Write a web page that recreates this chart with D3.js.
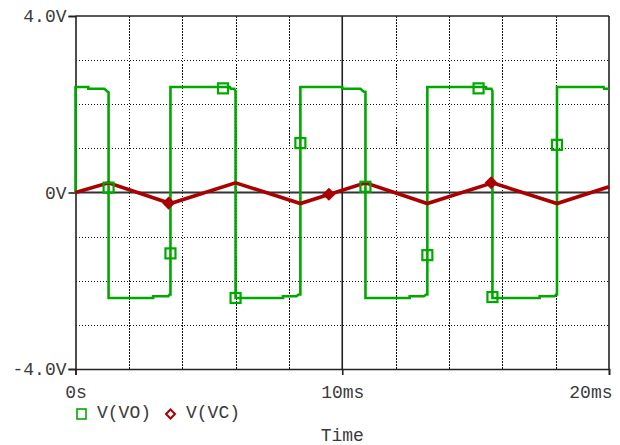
<!DOCTYPE html>
<html>
<head>
<meta charset="utf-8">
<script src="https://cdn.jsdelivr.net/npm/d3@7/dist/d3.min.js"></script>
<style>
  html, body { margin: 0; padding: 0; background: #fff; }
  svg { display: block; }
  text { font-family: "Courier New", "Liberation Mono", monospace; font-size: 18px; fill: #3a3a3a; }
</style>
</head>
<body>
<svg id="chart" width="620" height="445"></svg>
<script>
// Time in ms, voltage in V
const xTicks = [0, 10, 20];
const xTickLabels = ["0s", "10ms", "20ms"];
const yTicks = [-4, 0, 4];
const yTickLabels = ["-4.0V", "0V", "4.0V"];
const xGrid = [2, 4, 6, 8, 12, 14, 16, 18];
const yGrid = [-3, -2, -1, 1, 2, 3];
const seriesNames = ["V(VO)", "V(VC)"];
const axisTitle = "Time";

// Comparator output V(VO)
const voTrace = [
  [0, 0], [0, 2.39], [0.48, 2.39], [0.48, 2.35], [1.08, 2.35], [1.22, 2.28], [1.24, 2.27],
  [1.24, -2.39], [2.91, -2.39], [2.91, -2.35], [3.48, -2.35], [3.53, -2.31], [3.56, -2.31],
  [3.56, 2.39], [5.79, 2.39], [5.82, 2.35], [5.95, 2.35], [6.0, 2.3],
  [6.0, -2.39], [7.78, -2.39], [7.78, -2.35], [8.28, -2.35], [8.38, -2.31], [8.43, -2.31],
  [8.43, 2.39], [10.0, 2.39], [10.0, 2.35], [10.68, 2.35], [10.8, 2.29], [10.87, 2.28],
  [10.87, -2.39], [12.53, -2.39], [12.53, -2.35], [13.06, -2.35], [13.15, -2.31], [13.19, -2.31],
  [13.19, 2.39], [15.39, 2.39], [15.39, 2.35], [15.59, 2.35], [15.63, 2.3],
  [15.63, -2.39], [17.4, -2.39], [17.4, -2.35], [17.96, -2.35], [18.02, -2.31], [18.05, -2.31],
  [18.05, 2.39], [19.8, 2.39], [19.82, 2.35], [20, 2.35]
];

// Capacitor voltage V(VC)
const vcTrace = [
  [0, 0], [1.24, 0.22], [3.56, -0.25], [6.0, 0.22], [8.43, -0.25],
  [10.87, 0.22], [13.19, -0.25], [15.63, 0.22], [18.05, -0.25], [20, 0.13]
];

// Trace symbols
const voMarkers = [
  [1.24, 0.11], [3.56, -1.38], [5.53, 2.36], [6.0, -2.39], [8.43, 1.12],
  [10.87, 0.13], [13.19, -1.42], [15.11, 2.36], [15.63, -2.37], [18.05, 1.08]
];
const vcMarkers = [[3.49, -0.24], [9.5, -0.04], [15.58, 0.22]];

const colors = { vo: "#00a800", vc: "#aa0000" };

const svg = d3.select("#chart");
const x = d3.scaleLinear().domain([0, 20]).range([75.5, 609]);
const y = d3.scaleLinear().domain([-4, 4]).range([369, 16]);

// Dotted grid
const grid = svg.append("g").attr("stroke", "#111").attr("stroke-width", 1)
  .attr("stroke-dasharray", "1.5,1.5").attr("shape-rendering", "crispEdges");
grid.selectAll(".gx").data(xGrid).join("line")
  .attr("x1", d => Math.round(x(d)) + 0.5).attr("x2", d => Math.round(x(d)) + 0.5)
  .attr("y1", y(4)).attr("y2", y(-4));
grid.selectAll(".gy").data(yGrid).join("line")
  .attr("y1", d => Math.round(y(d)) + 0.5).attr("y2", d => Math.round(y(d)) + 0.5)
  .attr("x1", x(0)).attr("x2", x(20));

// Solid centre lines
svg.append("line").attr("x1", x(0)).attr("x2", x(20)).attr("y1", y(0)).attr("y2", y(0))
  .attr("stroke", "#333").attr("stroke-width", 2);
svg.append("line").attr("x1", x(10)).attr("x2", x(10)).attr("y1", y(4)).attr("y2", y(-4))
  .attr("stroke", "#222").attr("stroke-width", 1.6);

// Frame
svg.append("line").attr("x1", x(0)).attr("x2", x(20)).attr("y1", y(4)).attr("y2", y(4))
  .attr("stroke", "#222").attr("stroke-width", 1.6);
svg.append("line").attr("x1", x(20)).attr("x2", x(20)).attr("y1", y(4)).attr("y2", y(-4))
  .attr("stroke", "#222").attr("stroke-width", 1.6);

// Axes
const yAxis = d3.axisLeft(y).tickValues(yTicks)
  .tickFormat(d => yTickLabels[yTicks.indexOf(d)]).tickSize(7).tickPadding(2);
const gy = svg.append("g").attr("transform", `translate(${x(0)},0)`).call(yAxis);
const xAxis = d3.axisBottom(x).tickValues(xTicks)
  .tickFormat(d => xTickLabels[xTicks.indexOf(d)]).tickSize(6).tickPadding(10);
const gx = svg.append("g").attr("transform", `translate(0,${y(-4)})`).call(xAxis);

[gx, gy].forEach(g => {
  g.select(".domain").attr("stroke", "#222").attr("stroke-width", 1.6);
  g.selectAll(".tick line").attr("stroke", "#222").attr("stroke-width", 1.6);
  g.selectAll("text").attr("font-family", null).attr("font-size", null).attr("fill", null);
});
gy.selectAll(".tick text").attr("dy", "0.32em");
gx.selectAll(".tick text").attr("dy", "0.71em");
gx.selectAll(".tick").filter(d => d === 20).select("text")
  .attr("text-anchor", "end").attr("dx", 3);

// Traces
const line = d3.line().x(d => x(d[0])).y(d => y(d[1]));
svg.append("path").datum(voTrace).attr("d", line).attr("fill", "none")
  .attr("stroke", colors.vo).attr("stroke-width", 2.6).attr("stroke-linejoin", "miter");
svg.append("path").datum(vcTrace).attr("d", line).attr("fill", "none")
  .attr("stroke", colors.vc).attr("stroke-width", 3.6).attr("stroke-linejoin", "miter");

// Symbols
const sq = 10;
svg.append("g").selectAll("rect").data(voMarkers).join("rect")
  .attr("x", d => x(d[0]) - sq / 2).attr("y", d => y(d[1]) - sq / 2)
  .attr("width", sq).attr("height", sq)
  .attr("fill", "none").attr("stroke", colors.vo).attr("stroke-width", 2.2);
const diamond = (cx, cy, r) => `M${cx},${cy - r}L${cx + r},${cy}L${cx},${cy + r}L${cx - r},${cy}Z`;
svg.append("g").selectAll("path").data(vcMarkers).join("path")
  .attr("d", d => diamond(x(d[0]), y(d[1]), 5))
  .attr("fill", colors.vc).attr("stroke", colors.vc).attr("stroke-width", 2.2);

// Legend
const leg = svg.append("g");
leg.append("rect").attr("x", 77).attr("y", 409).attr("width", 9).attr("height", 10)
  .attr("fill", "none").attr("stroke", colors.vo).attr("stroke-width", 1.6);
leg.append("text").attr("x", 97).attr("y", 418).text(seriesNames[0]);
leg.append("path").attr("d", diamond(170.5, 414, 4.5))
  .attr("fill", "none").attr("stroke", colors.vc).attr("stroke-width", 2);
leg.append("text").attr("x", 186).attr("y", 418).text(seriesNames[1]);

// Axis title
svg.append("text").attr("x", x(10)).attr("y", 441).attr("text-anchor", "middle").text(axisTitle);
</script>
</body>
</html>
